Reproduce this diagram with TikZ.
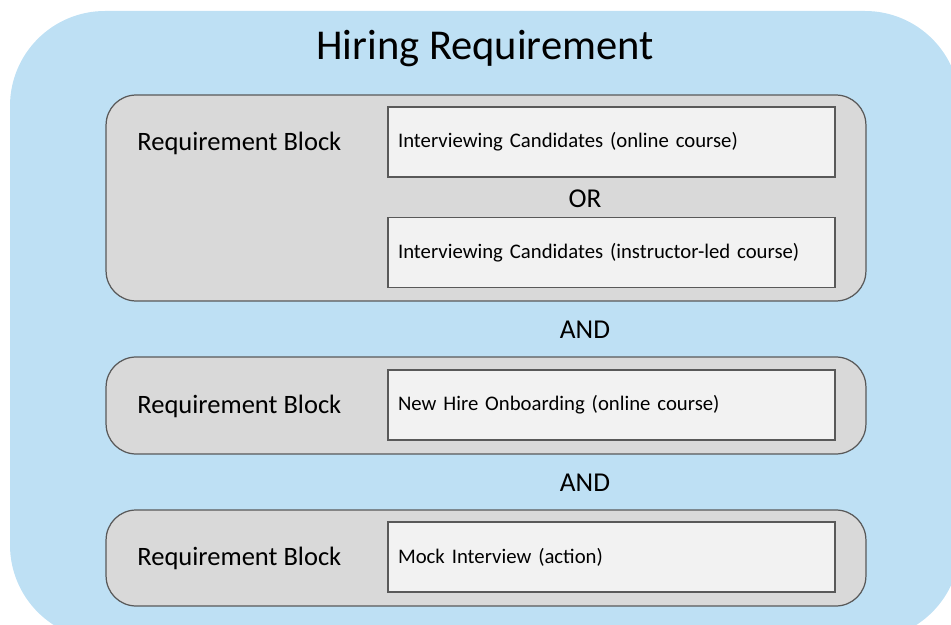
\documentclass[tikz,border=0pt]{standalone}
\usepackage{fontspec}
\setmainfont{Carlito}
\definecolor{hireblue}{RGB}{190,224,244}
\definecolor{blockgray}{RGB}{217,217,217}
\definecolor{itemgray}{RGB}{242,242,242}
\definecolor{edgegray}{RGB}{89,89,89}
\begin{document}
\begin{tikzpicture}[x=0.02cm, y=-0.02cm,
  reqblock/.style={draw=edgegray, fill=blockgray, line width=0.7pt, rounded corners=0.6cm, minimum width=15.2cm},
  item/.style={draw=edgegray, fill=itemgray, line width=0.7pt, minimum width=8.94cm, minimum height=1.4cm, text width=8.54cm, align=left, inner xsep=0.2cm, font=\fontsize{11.8}{14}\selectfont},
  blocklabel/.style={anchor=west, inner sep=0pt, font=\fontsize{15.1}{18}\selectfont},
  joiner/.style={font=\fontsize{15.5}{18}\selectfont}]
\useasboundingbox (0,0) rectangle (951,625);
\clip (0,0) rectangle (951,625);
\fill[hireblue, rounded corners=1.9cm] (10,11) rectangle (960,640);
\node[font=\fontsize{24.2}{28}\selectfont] (title) at (485,49) {Hiring Requirement};
% first block
\node[reqblock, minimum height=4.12cm] (block1) at (486,198) {};
\node[blocklabel] (label1) at (137,143) {Requirement Block};
\node[item] (online) at (611.5,142) {Interviewing Candidates (online course)};
\node[joiner] (or) at (585,199) {OR};
\node[item] (instructor) at (611.5,252.5) {Interviewing Candidates (instructor-led course)};
\node[joiner] (and1) at (585,330) {AND};
% second block
\node[reqblock, minimum height=1.94cm] (block2) at (486,405.5) {};
\node[blocklabel] (label2) at (137,406) {Requirement Block};
\node[item] (onboarding) at (611.5,405) {New Hire Onboarding (online course)};
\node[joiner] (and2) at (585,483) {AND};
% third block
\node[reqblock, minimum height=1.92cm] (block3) at (486,558) {};
\node[blocklabel] (label3) at (137,558) {Requirement Block};
\node[item] (mock) at (611.5,557) {Mock Interview (action)};
\end{tikzpicture}
\end{document}
